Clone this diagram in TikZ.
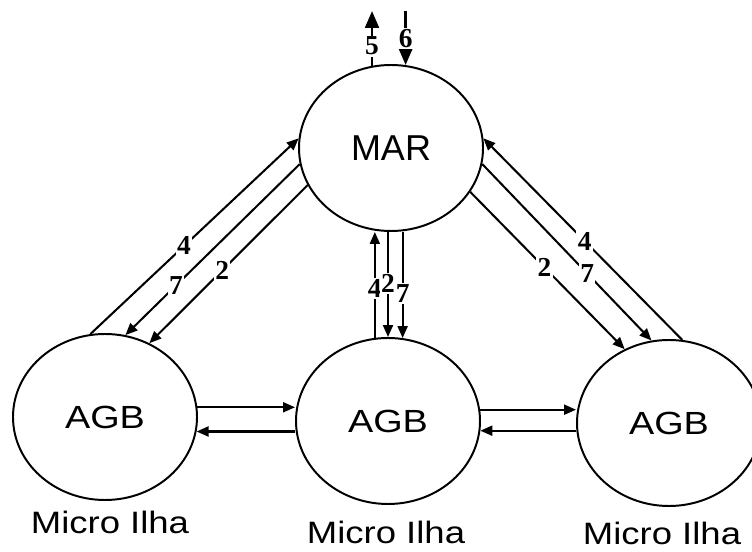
\documentclass[tikz,border=0pt]{standalone}
\usepackage{fontspec}
\usetikzlibrary{arrows.meta,shapes.geometric}
\newfontfamily\arialfont{Liberation Sans}
\newfontfamily\widefont[FakeStretch=1.18]{Liberation Sans}
\newfontfamily\timesfont{Liberation Serif}

\begin{document}
\begin{tikzpicture}[
  zone/.style={ellipse, draw, line width=1.4pt, minimum width=4.6cm,
               minimum height=4.15cm, inner sep=0pt},
  flow/.style={line width=1.45pt, -{Triangle[length=0.3cm,width=0.25cm]}},
  vent/.style={line width=2pt, -{Triangle[length=0.42cm,width=0.34cm]}},
  num/.style={font=\timesfont\bfseries\fontsize{19.5}{20}\selectfont,
              fill=white, inner sep=1pt},
  place/.style={font=\widefont\fontsize{22}{22}\selectfont, inner sep=0pt},
]
  \useasboundingbox (0,0) rectangle (18.8,13.775);

  % --- Sea and the three micro islands ---
  \node[zone, font=\arialfont\fontsize{25.6}{26}\selectfont] (mar) at (9.775,10.075) {MAR};
  \node[zone, font=\widefont\fontsize{22.8}{23}\selectfont] (agbL) at (2.625,3.35) {AGB};
  \node[zone, font=\widefont\fontsize{22.8}{23}\selectfont] (agbM) at (9.7,3.25) {AGB};
  \node[zone, font=\widefont\fontsize{22.8}{23}\selectfont] (agbR) at (16.725,3.2) {AGB};

  \node[place] (ilhaL) at (2.75,0.725)  {Micro Ilha};
  \node[place] (ilhaM) at (9.65,0.475)  {Micro Ilha};
  \node[place] (ilhaR) at (16.55,0.43) {Micro Ilha};

  % Exchange with the outside
  \coordinate (sky) at (0,13.5);
  \draw[vent] (mar.103) -- node[num, pos=0.36] {5} (mar.103 |- sky);
  \draw[vent] (mar.80 |- sky) -- node[num, pos=0.51] {6} (mar.80);

  % Left island <-> sea
  \draw[flow] (agbL.100) -- node[num, pos=0.45] {4} (mar.174);
  \draw[flow] (mar.190) -- node[num, pos=0.71] {7} (agbL.76);
  \draw[flow] (mar.204) -- node[num, pos=0.54] {2} (agbL.59);

  % Middle island <-> sea
  \draw[flow] (agbM.99) -- node[num, pos=0.47] {4} (agbM.99 |- mar.south);
  \draw[flow] (mar.south -| agbM.north) -- node[num, pos=0.49] {2} (agbM.north);
  \draw[flow] (mar.south -| agbM.80) -- node[num, pos=0.58] {7} (agbM.80);

  % Right island <-> sea
  \draw[flow] (agbR.81) -- node[num, pos=0.49] {4} (mar.6);
  \draw[flow] (mar.350) -- node[num, pos=0.62] {7} (agbR.102);
  \draw[flow] (mar.331) -- node[num, pos=0.48] {2} (agbR.121);

  % Between neighbouring islands
  \draw[flow] (agbL.6) -- (agbL.6 -| agbM.west);
  \draw[flow] (agbM.west |- agbL.351) -- (agbL.351);
  \draw[flow] (agbM.7) -- (agbM.7 -| agbR.west);
  \draw[flow] (agbR.west |- agbM.354) -- (agbM.354);
\end{tikzpicture}
\end{document}
